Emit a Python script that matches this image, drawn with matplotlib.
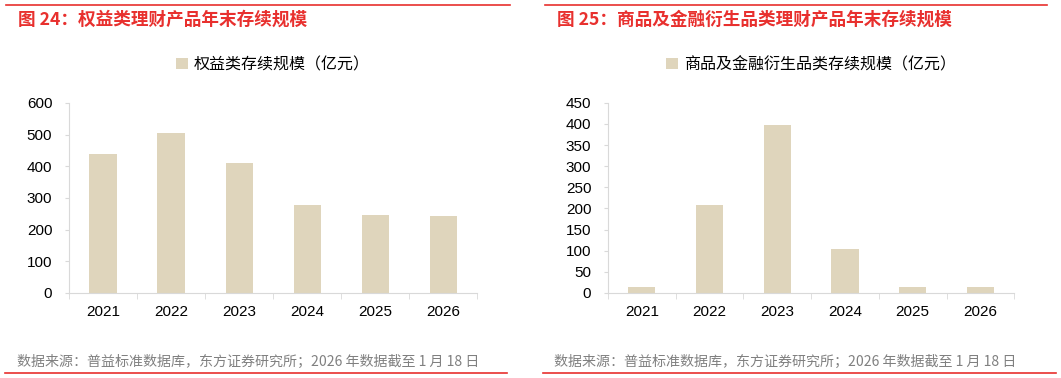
import matplotlib.pyplot as plt
from matplotlib.lines import Line2D

plt.rcParams['font.family'] = ['Liberation Sans', 'Noto Sans CJK SC', 'DejaVu Sans']

years = ['2021', '2022', '2023', '2024', '2025', '2026']
equity = [437, 504, 410, 276, 245, 243]
commodity = [13, 207, 397, 104, 15, 14]

titles = ['图 24：权益类理财产品年末存续规模', '图 25：商品及金融衍生品类理财产品年末存续规模']
legends = ['权益类存续规模（亿元）', '商品及金融衍生品类存续规模（亿元）']
source = '数据来源：普益标准数据库，东方证券研究所；2026 年数据截至 1 月 18 日'

BAR = '#DFD5BC'
RED = '#E8302E'
GRAY = '#D9D9D9'

fig = plt.figure(figsize=(10.61, 3.78), dpi=100)

panels = [
    dict(rect=[0.065, 0.225, 0.385, 0.503], data=equity, ylim=600, step=100,
         tx=0.017, line=(6, 510), foot=(17, 5, 507)),
    dict(rect=[0.573, 0.225, 0.383, 0.503], data=commodity, ylim=450, step=50,
         tx=0.525, line=(545, 1047), foot=(554, 543, 1056)),
]

for i, p in enumerate(panels):
    ax = fig.add_axes(p['rect'])
    x = range(len(years))
    ax.bar(x, p['data'], width=0.4, color=BAR, label=legends[i])
    ax.set_xlim(-0.5, len(years) - 0.5)
    ax.set_ylim(0, p['ylim'])
    ax.set_yticks(range(0, p['ylim'] + 1, p['step']))
    ax.set_xticks(list(x))
    ax.set_xticklabels(years)
    ax.set_xticks([k - 0.5 for k in range(len(years) + 1)], minor=True)
    for s in ['top', 'right']:
        ax.spines[s].set_visible(False)
    for s in ['left', 'bottom']:
        ax.spines[s].set_color(GRAY)
        ax.spines[s].set_linewidth(0.8)
    ax.tick_params(axis='x', which='major', length=0, labelsize=11, pad=9)
    ax.tick_params(axis='x', which='minor', length=4, color=GRAY, direction='out')
    ax.tick_params(axis='y', length=3, color=GRAY, labelsize=11, pad=9)
    ax.legend(loc='center', bbox_to_anchor=(0.5, 1.2), frameon=False,
              handlelength=0.7, handleheight=0.7, handletextpad=0.4,
              prop={'family': ['Noto Sans CJK SC'], 'size': 11.5})

    fig.text(p['tx'], 1 - 20 / 378, titles[i], color=RED, fontsize=12.7,
             fontweight='bold', va='center', family=['Noto Sans CJK SC'])
    x0, x1 = p['line']
    fig.add_artist(Line2D([x0 / 1061, x1 / 1061], [1 - 5 / 378] * 2,
                          color=RED, lw=1.2))
    fx, l0, l1 = p['foot']
    fig.text(fx / 1061, 1 - 362 / 378, source, color='#808080', fontsize=10.1,
             va='center', family=['Noto Sans CJK SC'])
    fig.add_artist(Line2D([l0 / 1061, l1 / 1061], [1 - 373 / 378] * 2,
                          color=RED, lw=1.2))

fig.savefig('out.png', dpi=100)
